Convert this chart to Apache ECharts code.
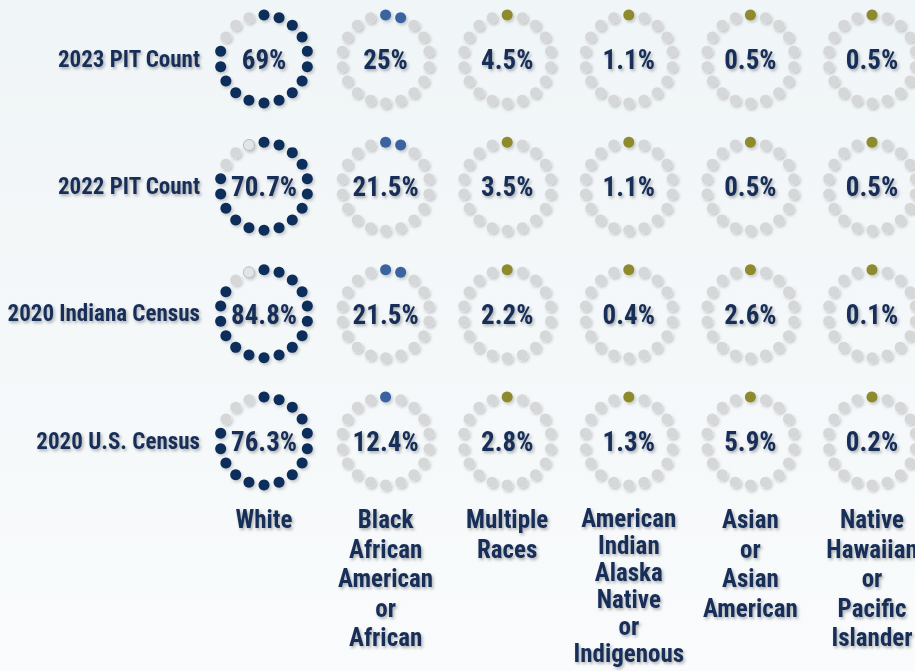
<!DOCTYPE html>
<html>
<head>
<meta charset="utf-8">
<script src="https://cdn.jsdelivr.net/npm/echarts@6/dist/echarts.min.js"></script>
<style>
html,body{margin:0;padding:0;background:#f4f7f9;}
#chart{width:915px;height:671px;}
</style>
</head>
<body>
<div id="chart"></div>
<script>
// ---- data ----
var rows = ['2023 PIT Count', '2022 PIT Count', '2020 Indiana Census', '2020 U.S. Census'];
var categories = [
  'White',
  'Black\nAfrican\nAmerican\nor\nAfrican',
  'Multiple\nRaces',
  'American\nIndian\nAlaska\nNative\nor\nIndigenous',
  'Asian\nor\nAsian\nAmerican',
  'Native\nHawaiian\nor\nPacific\nIslander'
];
var pit2023 = [69, 25, 4.5, 1.1, 0.5, 0.5];
var pit2022 = [70.7, 21.5, 3.5, 1.1, 0.5, 0.5];
var indiana2020 = [84.8, 21.5, 2.2, 0.4, 2.6, 0.1];
var us2020 = [76.3, 12.4, 2.8, 1.3, 5.9, 0.2];
// filled dots (out of 18) shown in each ring
var dots2023 = [15, 2, 1, 1, 1, 1];
var dots2022 = [15, 2, 1, 1, 1, 1];
var dotsIndiana = [16, 2, 1, 1, 1, 1];
var dotsUS = [15, 1, 1, 1, 1, 1];
// outlined (partial) dot just before the top
var partial2023 = [0, 0, 0, 0, 0, 0];
var partial2022 = [1, 0, 0, 0, 0, 0];
var partialIndiana = [1, 0, 0, 0, 0, 0];
var partialUS = [0, 0, 0, 0, 0, 0];

var DOTS_PER_RING = 18;

// ---- styles ----
var colColors = ['#0e2f5a', '#3a649f', '#8e8a2d', '#8e8a2d', '#8e8a2d', '#8e8a2d'];
var GRAY = '#d6d7d8';
var TEXT = '#182f58';
var FONT = '"Roboto Condensed", Roboto, sans-serif';

var valueRows = [pit2023, pit2022, indiana2020, us2020];
var dotRows = [dots2023, dots2022, dotsIndiana, dotsUS];
var partialRows = [partial2023, partial2022, partialIndiana, partialUS];

var data = [];
for (var r = 0; r < rows.length; r++) {
  for (var c = 0; c < categories.length; c++) {
    data.push([c, r, valueRows[r][c], dotRows[r][c], partialRows[r][c]]);
  }
}

function renderItem(params, api) {
  var col = api.value(0), row = api.value(1);
  var pct = api.value(2), filled = api.value(3), partial = api.value(4);
  var center = api.coord([col, row]);
  var R = 44, dotR = 5.5;
  var children = [];
  for (var k = 0; k < DOTS_PER_RING; k++) {
    var a = k * 2 * Math.PI / DOTS_PER_RING;
    var x = center[0] + R * Math.sin(a);
    var y = center[1] - R * Math.cos(a);
    var fill = GRAY, stroke = null, lw = 0;
    if (k < filled) fill = colColors[col];
    else if (partial && k === DOTS_PER_RING - 1) { fill = '#e3e4e5'; stroke = '#a9adb2'; lw = 0.8; }
    children.push({
      type: 'circle',
      shape: { cx: x, cy: y, r: dotR },
      style: {
        fill: fill, stroke: stroke, lineWidth: lw,
        shadowBlur: 3, shadowOffsetX: 1.5, shadowOffsetY: 2,
        shadowColor: 'rgba(0,0,0,0.2)'
      }
    });
  }
  children.push({
    type: 'text',
    x: center[0], y: center[1] + 1,
    style: {
      text: pct + '%',
      fill: TEXT,
      font: 'bold 27px ' + FONT,
      align: 'center', verticalAlign: 'middle',
      textShadowColor: 'rgba(0,0,0,0.3)', textShadowBlur: 3,
      textShadowOffsetX: 1.5, textShadowOffsetY: 2
    }
  });
  return { type: 'group', children: children };
}

var chart = echarts.init(document.getElementById('chart'), null, { renderer: 'svg' });
var shadow = { textShadowColor: 'rgba(0,0,0,0.3)', textShadowBlur: 3, textShadowOffsetX: 1.5, textShadowOffsetY: 2 };
chart.setOption({
  backgroundColor: {
    type: 'linear', x: 0, y: 0, x2: 0, y2: 1,
    colorStops: [{ offset: 0, color: '#f0f5f7' }, { offset: 1, color: '#f9fbfc' }]
  },
  animation: false,
  grid: { left: 264, top: 59, width: 608, height: 382, containLabel: false, outerBoundsMode: 'none' },
  xAxis: {
    type: 'value', min: 0, max: 5, interval: 1,
    axisLine: { show: false }, axisTick: { show: false }, splitLine: { show: false },
    axisLabel: {
      margin: 64,
      hideOverlap: false,
      showMinLabel: true, showMaxLabel: true,
      formatter: function (v) {
        var lines = categories[v].split('\n');
        var key = lines.length > 5 ? 't' : 'n';
        return lines.map(function (l) { return '{' + key + '|' + l + '}'; }).join('\n');
      },
      rich: {
        n: Object.assign({ fontFamily: FONT, fontWeight: 'bold', fontSize: 25, lineHeight: 29.5, color: TEXT, align: 'center' }, shadow),
        t: Object.assign({ fontFamily: FONT, fontWeight: 'bold', fontSize: 25, lineHeight: 27, color: TEXT, align: 'center' }, shadow)
      }
    }
  },
  yAxis: {
    type: 'value', min: 0, max: 3, interval: 1, inverse: true,
    axisLine: { show: false }, axisTick: { show: false }, splitLine: { show: false },
    axisLabel: Object.assign({
      margin: 64,
      showMinLabel: true, showMaxLabel: true,
      fontFamily: FONT, fontWeight: 'bold', fontSize: 23, color: TEXT,
      formatter: function (v) { return rows[v]; }
    }, shadow)
  },
  series: [{
    type: 'custom',
    renderItem: renderItem,
    data: data,
    clip: false,
    encode: { x: 0, y: 1 }
  }]
});
</script>
</body>
</html>
